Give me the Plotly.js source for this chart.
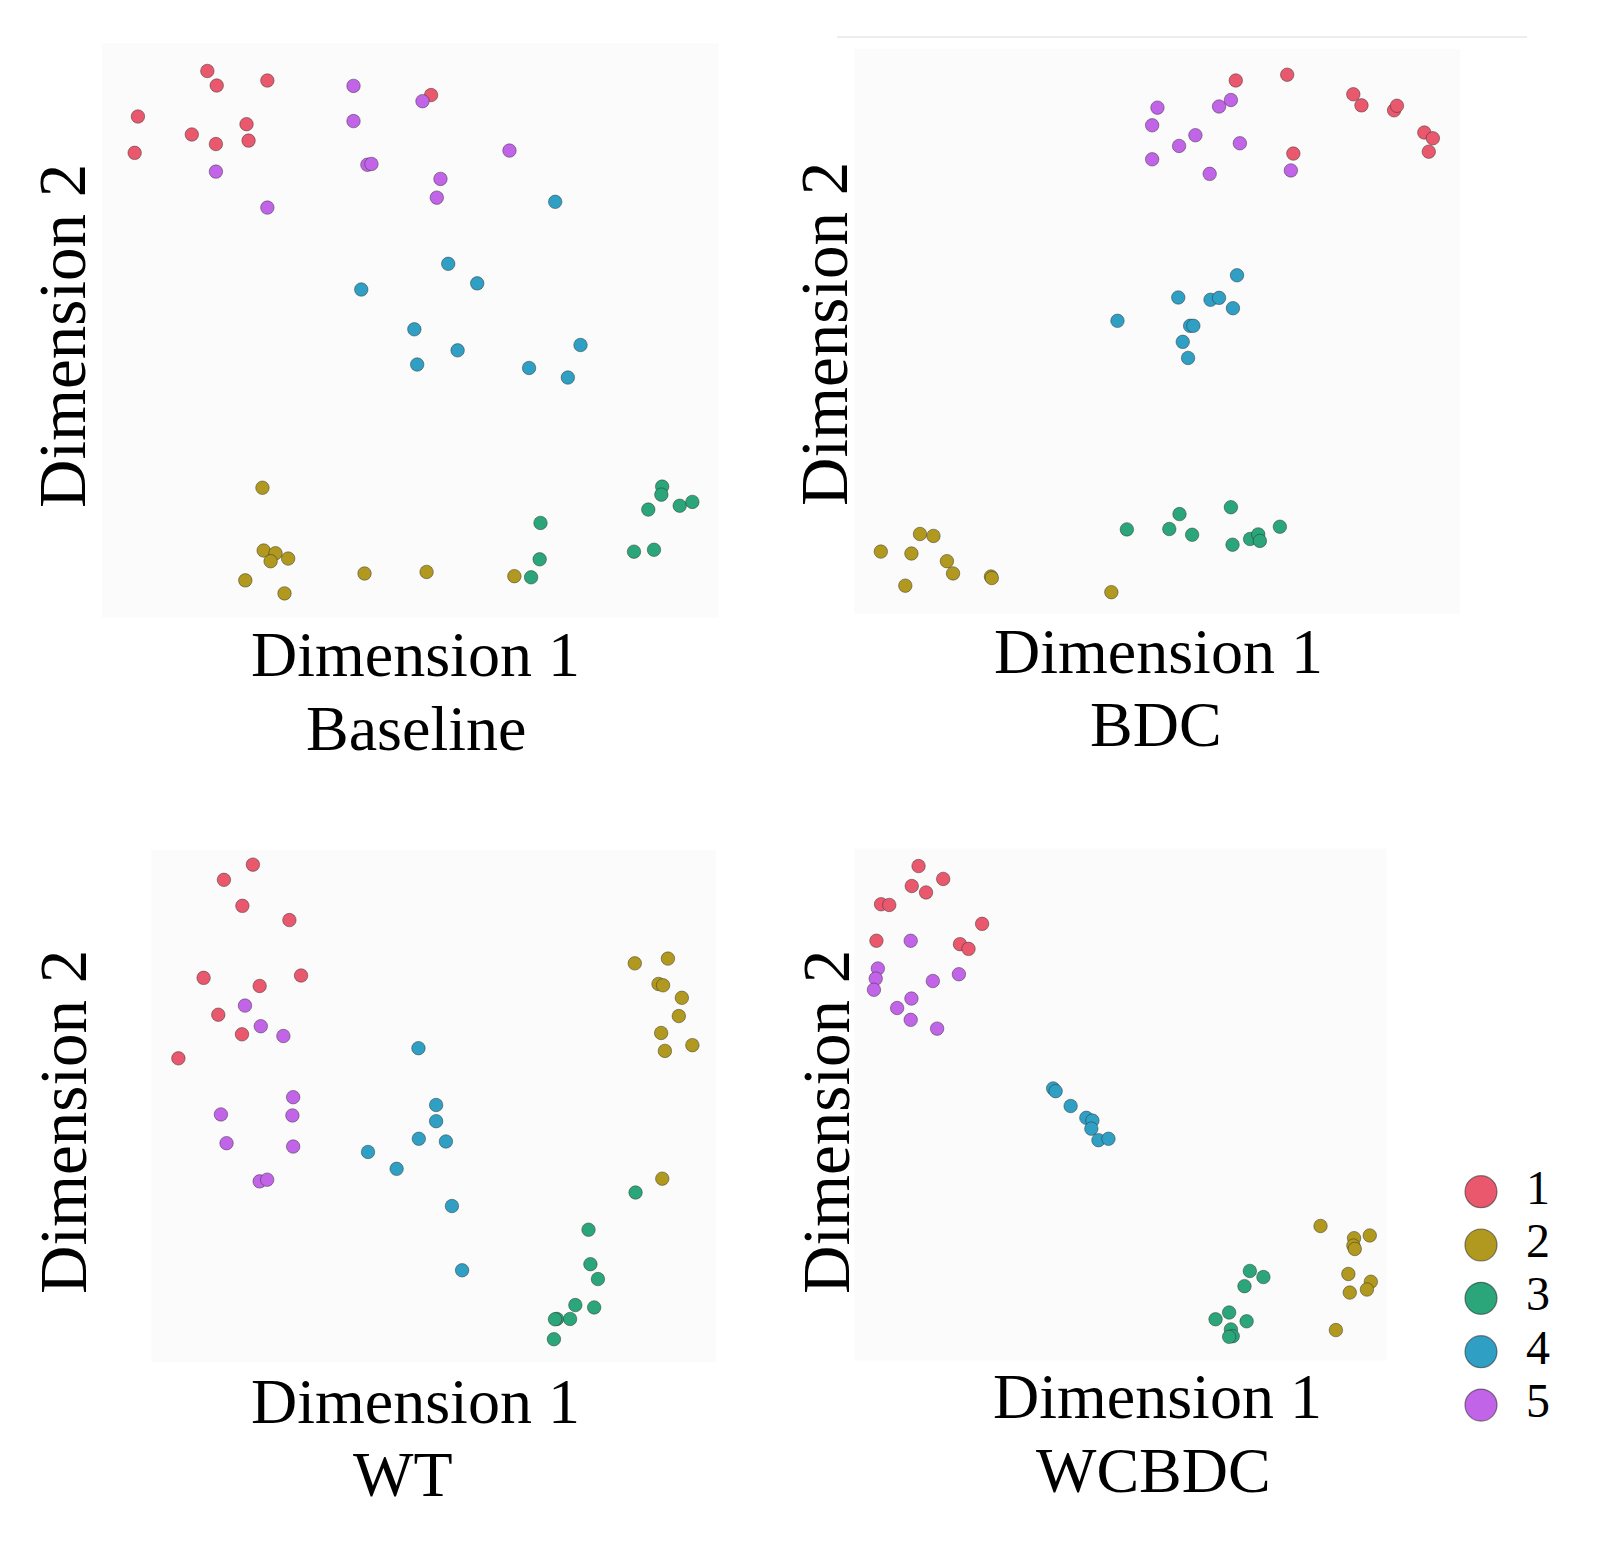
<!DOCTYPE html>
<html>
<head>
<meta charset="utf-8">
<script src="https://cdn.plot.ly/plotly-3.0.1.min.js"></script>
<style>
  html, body { margin: 0; padding: 0; background: #ffffff; }
  #chart { width: 1603px; height: 1548px; }
</style>
</head>
<body>
<div id="chart"></div>
<script>
// ---------- data ----------
const clusters = [1, 2, 3, 4, 5];
const clusterColors = ['#e9586d', '#b0991e', '#2ba57a', '#2f9fc3', '#c264e8'];
const panelNames = ['Baseline', 'BDC', 'WT', 'WCBDC'];

const baselineX = [28.8,31.1,43.5,11.8,25.0,30.9,38.4,38.9,11.0,83.6,
  64.6,81.5,64.6,68.0,69.0,102.8,85.9,85.0,30.9,43.5,
  114.0,87.8,94.9,66.5,79.5,90.1,80.2,107.6,120.2,117.1,
  42.3,42.6,45.5,48.6,44.3,38.1,47.7,67.3,82.5,104.0,
  140.2,140.0,136.8,144.5,147.6,110.4,110.2,108.1,133.3,138.2];
const baselineY = [-10.7,-14.5,-13.2,-22.6,-27.3,-29.8,-24.6,-28.9,-32.1,-17.0,
  -14.6,-18.6,-23.8,-35.2,-35.0,-31.5,-38.9,-43.8,-37.0,-46.4,
  -44.9,-61.1,-66.2,-67.8,-78.2,-83.7,-87.4,-88.3,-82.3,-90.8,
  -119.6,-136.0,-136.7,-138.1,-138.8,-143.8,-147.2,-142.0,-141.6,-142.7,
  -119.3,-121.4,-125.3,-124.3,-123.3,-128.8,-138.3,-143.0,-136.3,-135.8];
const baselineC = [1,1,1,1,1,1,1,1,1,1, 5,5,5,5,5,5,5,5,5,5, 4,4,4,4,4,4,4,4,4,4,
  2,2,2,2,2,2,2,2,2,2, 3,3,3,3,3,3,3,3,3,3];

const bdcX = [97.0,109.6,125.8,127.8,135.8,136.5,143.2,145.3,144.3,111.1,
  77.8,76.5,87.1,83.1,76.5,92.9,95.8,98.0,90.6,110.5,
  97.3,82.9,90.8,92.9,96.3,68.0,85.8,86.6,84.0,85.3,
  70.3,80.7,83.2,86.3,95.8,96.2,100.5,102.5,102.9,107.8,
  10.0,19.6,22.9,17.5,26.2,27.7,16.0,37.0,37.2,66.5];
const bdcY = [-13.2,-11.7,-16.8,-19.7,-21.0,-19.8,-26.8,-28.3,-31.8,-32.3,
  -20.3,-24.9,-27.5,-30.3,-33.8,-20.0,-18.3,-29.6,-37.6,-36.7,
  -64.1,-69.9,-70.5,-70.0,-72.7,-76.0,-77.3,-77.3,-81.5,-85.7,
  -130.5,-130.4,-126.5,-131.9,-124.7,-134.5,-133.0,-131.8,-133.5,-129.8,
  -136.3,-131.7,-132.2,-136.8,-138.8,-142.0,-145.2,-142.8,-143.2,-146.9];
const bdcC = [1,1,1,1,1,1,1,1,1,1, 5,5,5,5,5,5,5,5,5,5, 4,4,4,4,4,4,4,4,4,4,
  3,3,3,3,3,3,3,3,3,3, 2,2,2,2,2,2,2,2,2,2];

const wtX = [30.0,22.3,27.2,39.7,16.9,31.8,42.8,20.8,27.1,10.2,
  27.9,32.1,38.1,40.7,21.5,40.5,23.0,40.7,31.8,33.8,
  74.0,78.7,78.7,74.1,81.3,60.6,68.2,82.9,85.6,
  131.5,140.3,137.8,139.0,144.0,143.2,138.5,139.5,146.8,138.8,
  131.7,119.2,119.7,121.7,115.7,120.7,110.8,114.3,110.3,110.0];
const wtY = [-7.3,-11.8,-19.5,-23.7,-40.8,-43.2,-40.1,-51.7,-57.5,-64.6,
  -49.0,-55.1,-58.0,-76.1,-81.2,-81.5,-89.7,-90.7,-101.0,-100.5,
  -61.6,-78.4,-83.2,-88.4,-89.2,-92.3,-97.3,-108.3,-127.3,
  -36.5,-35.1,-42.6,-43.0,-46.7,-52.1,-57.1,-62.4,-60.7,-100.2,
  -104.3,-115.3,-125.5,-129.9,-137.6,-138.3,-141.7,-141.7,-141.8,-147.7];
const wtC = [1,1,1,1,1,1,1,1,1,1, 5,5,5,5,5,5,5,5,5,5, 4,4,4,4,4,4,4,4,4,
  2,2,2,2,2,2,2,2,2,2, 3,3,3,3,3,3,3,3,3,3];

const wcbdcX = [22.0,28.9,20.1,24.1,11.5,13.8,39.8,10.2,33.6,36.0,
  19.8,10.6,10.0,9.5,33.3,26.0,20.0,16.0,19.8,27.2,
  59.7,60.4,64.6,69.0,70.7,70.4,72.4,75.2,
  114.8,118.6,113.3,109.0,105.2,113.9,109.5,110.0,109.0,
  134.6,144.0,148.4,143.8,144.2,142.4,148.7,147.6,142.8,138.9];
const wcbdcY = [-7.7,-11.5,-13.6,-15.5,-19.0,-19.2,-24.8,-29.8,-30.8,-32.2,
  -29.8,-38.0,-41.0,-44.3,-39.7,-41.7,-46.9,-49.7,-53.2,-55.8,
  -73.5,-74.3,-78.7,-82.2,-83.0,-85.4,-88.8,-88.4,
  -127.5,-129.3,-132.0,-139.8,-141.8,-142.4,-144.8,-146.8,-147.0,
  -114.2,-117.8,-117.0,-120.0,-121.0,-128.4,-130.7,-133.0,-133.9,-145.0];
const wcbdcC = [1,1,1,1,1,1,1,1,1,1, 5,5,5,5,5,5,5,5,5,5, 4,4,4,4,4,4,4,4,
  3,3,3,3,3,3,3,3,3, 2,2,2,2,2,2,2,2,2,2];

// ---------- layout helpers ----------
const W = 1603, H = 1548;
const px = v => v / W;           // pixel -> paper x
const py = v => 1 - v / H;       // pixel -> paper y
const serif = '"Liberation Serif", "Times New Roman", serif';

const panels = [
  { x: baselineX, y: baselineY, c: baselineC, box: [102, 718.5, 43.4, 617.5], xr: [3.0, 154.0], yr: [-153.5, -3.5] },
  { x: bdcX, y: bdcY, c: bdcC, box: [854.3, 1460.2, 49.1, 613.6], xr: [3.5, 152.0], yr: [-152.5, -5.0] },
  { x: wtX, y: wtY, c: wtC, box: [151.3, 715.7, 850.1, 1362.2], xr: [3.0, 153.0], yr: [-154.5, -3.0] },
  { x: wcbdcX, y: wcbdcY, c: wcbdcC, box: [854.3, 1386.2, 848.5, 1360.5], xr: [4.0, 153.0], yr: [-154.0, -2.5] }
];

const traces = [];
const layout = {
  width: W, height: H,
  margin: { l: 0, r: 0, t: 0, b: 0 },
  paper_bgcolor: '#ffffff',
  plot_bgcolor: '#fbfbfb',
  showlegend: false,
  annotations: [],
  shapes: [{
    type: 'line', xref: 'paper', yref: 'paper',
    x0: px(837), x1: px(1527), y0: py(37), y1: py(37),
    line: { color: '#ededed', width: 2 }
  }]
};

const hiddenAxis = {
  showgrid: false, zeroline: false, showticklabels: false, ticks: '',
  showline: false, fixedrange: true
};

panels.forEach((p, i) => {
  const n = i + 1;
  const xa = n === 1 ? 'xaxis' : 'xaxis' + n;
  const ya = n === 1 ? 'yaxis' : 'yaxis' + n;
  layout[xa] = Object.assign({}, hiddenAxis, {
    domain: [px(p.box[0]), px(p.box[1])], range: p.xr, anchor: 'y' + (n === 1 ? '' : n)
  });
  layout[ya] = Object.assign({}, hiddenAxis, {
    domain: [py(p.box[3]), py(p.box[2])], range: p.yr, anchor: 'x' + (n === 1 ? '' : n)
  });
  clusters.forEach((k, j) => {
    const idx = p.c.map((v, t) => v === k ? t : -1).filter(t => t >= 0);
    traces.push({
      type: 'scatter', mode: 'markers',
      x: idx.map(t => p.x[t]), y: idx.map(t => p.y[t]),
      xaxis: 'x' + (n === 1 ? '' : n), yaxis: 'y' + (n === 1 ? '' : n),
      name: String(k),
      marker: { size: 13.5, color: clusterColors[j], line: { color: 'rgba(40,40,40,0.45)', width: 1 } },
      hoverinfo: 'skip'
    });
  });
});

// axis titles & panel names
function addText(text, x, y, size, angle) {
  layout.annotations.push({
    text: text, xref: 'paper', yref: 'paper', x: px(x), y: py(y),
    xanchor: 'center', yanchor: 'middle', showarrow: false, borderpad: 0,
    textangle: angle || 0, font: { family: serif, size: size, color: '#000000' }
  });
}
const xTitlePos = [[415, 655], [1158, 651], [415, 1401], [1157, 1396]];
const namePos = [[416, 728], [1156, 724], [403, 1474], [1153, 1470]];
const yTitlePos = [[62, 336], [824, 334], [63, 1122], [826, 1122]];
panelNames.forEach((nm, i) => {
  addText('Dimension 1', xTitlePos[i][0], xTitlePos[i][1], 64);
  addText(nm, namePos[i][0], namePos[i][1], 64);
  addText('Dimension 2', yTitlePos[i][0], yTitlePos[i][1], 67, -90);
});

// legend drawn as its own small subplot
layout.xaxis5 = Object.assign({}, hiddenAxis, { domain: [px(1440), px(1600)], range: [0, 160], anchor: 'y5' });
layout.yaxis5 = Object.assign({}, hiddenAxis, { domain: [py(1431.7), py(1165)], range: [5.5, 0.5], anchor: 'x5' });
traces.push({
  type: 'scatter', mode: 'markers', xaxis: 'x5', yaxis: 'y5',
  x: clusters.map(() => 41), y: clusters,
  marker: { size: 32, color: clusterColors, line: { color: 'rgba(40,40,40,0.55)', width: 1.2 } },
  hoverinfo: 'skip', cliponaxis: false
});
traces.push({
  type: 'scatter', mode: 'text', xaxis: 'x5', yaxis: 'y5',
  x: clusters.map(() => 86), y: clusters, text: clusters.map(String),
  textposition: 'middle right',
  textfont: { family: serif, size: 48, color: '#000000' },
  hoverinfo: 'skip', cliponaxis: false
});
// legend subplot background stays white
layout.shapes.push({
  type: 'rect', xref: 'paper', yref: 'paper', layer: 'below',
  x0: px(1440), x1: px(1600), y0: py(1431.7), y1: py(1165),
  fillcolor: '#ffffff', line: { width: 0 }
});

Plotly.newPlot('chart', traces, layout, { displayModeBar: false, staticPlot: true });
</script>
</body>
</html>
